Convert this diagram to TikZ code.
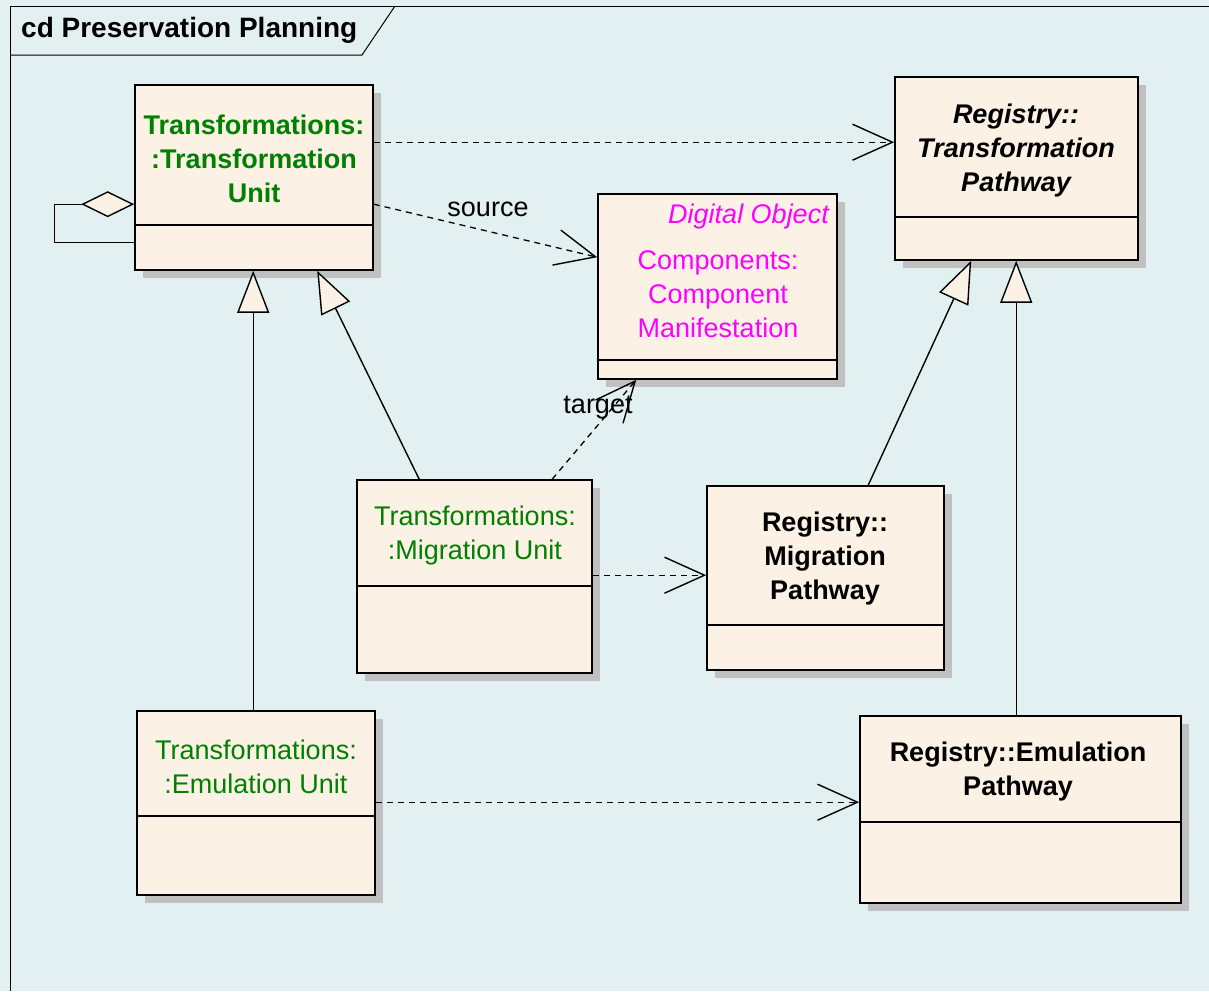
\documentclass[tikz,border=0pt]{standalone}
\usepackage{fontspec}
\setmainfont{Liberation Sans}
\usetikzlibrary{arrows.meta,fit}
\definecolor{bgc}{HTML}{E2F0F1}
\definecolor{cream}{HTML}{FBF1E4}
\definecolor{shadowc}{HTML}{C0C0C0}
\definecolor{umlgreen}{HTML}{008000}
\definecolor{umlmagenta}{HTML}{FF00FF}
\newcommand\boxfont{\fontsize{27}{34}\selectfont}
\tikzset{
  classbox/.style={draw, fill=cream, line width=1.6pt, inner sep=0pt},
  sepline/.style={line width=1.6pt},
  label/.style={font=\boxfont, align=center, inner sep=0pt},
  depend/.style={line width=1.3pt, dash pattern=on 6pt off 5pt,
    -{Straight Barb[length=40pt,width=36pt,line width=1.4pt]}},
  general/.style={line width=1.4pt,
    -{Triangle[fill=cream,length=42pt,width=32pt,line width=1.4pt]}},
  aggreg/.style={line width=1.4pt,
    {Diamond[fill=cream,length=53pt,width=26pt,line width=1.4pt]}-},
}
% class box: name, x1, y1, x2, y2, separator y
\newcommand\classbox[6]{%
  \fill[shadowc, shift={(8,8)}] (#2,#3) rectangle (#4,#5);
  \node[classbox, fit={(#2,#3) (#4,#5)}] (#1) {};
  \draw[sepline] (#2,#6) -- (#4,#6);
}
\begin{document}
\begin{tikzpicture}[x=1pt,y=-1pt]
\fill[bgc] (0,0) rectangle (1209,991);
\useasboundingbox (0,0) rectangle (1209,991);

% diagram frame and its title tab
\draw[line width=1pt] (1209,6) -- (10,6) -- (10,991);
\draw[line width=1pt] (10,55) -- (362,55) -- (395,6);
\node[label, font=\fontsize{28}{34}\selectfont\bfseries, anchor=west] (title) at (21,30) {cd Preservation Planning};

% classes
\classbox{TU}{135}{85}{373}{270}{225}
\classbox{TP}{895}{77}{1138}{260}{217}
\classbox{DO}{598}{194}{837}{379}{360}
\classbox{MU}{357}{480}{592}{673}{586}
\classbox{MP}{707}{486}{944}{670}{625}
\classbox{EU}{137}{711}{375}{895}{816}
\classbox{EP}{860}{716}{1181}{903}{822}

\node[label, text=umlgreen, font=\boxfont\bfseries] (tuText) at (254,159) {Transformations:\\:Transformation\\Unit};
\node[label, font=\boxfont\bfseries\itshape] (tpText) at (1016,151) {Registry::\\Transformation\\Pathway};
\node[label, text=umlmagenta, font=\boxfont\itshape, anchor=east] (doStereo) at (829,217) {Digital Object};
\node[label, text=umlmagenta] (doText) at (718,294) {Components:\\Component\\Manifestation};
\node[label, text=umlgreen] (muText) at (475,536) {Transformations:\\:Migration Unit};
\node[label, font=\boxfont\bfseries] (mpText) at (825,559) {Registry::\\Migration\\Pathway};
\node[label, text=umlgreen] (euText) at (256,767) {Transformations:\\:Emulation Unit};
\node[label, font=\boxfont\bfseries] (epText) at (1018,772) {Registry::Emulation\\Pathway};

% self aggregation
\draw[aggreg] ([yshift=-120pt]TU.north west) -- ++(-80,0) |- ([yshift=-158pt]TU.north west);

% dependencies
\draw[depend] ([yshift=-58pt]TU.north east) -- ([yshift=-66pt]TP.north west);
\draw[depend] ([yshift=-120pt]TU.north east) -- ([yshift=-64pt]DO.north west);
\node[label] (srcLabel) at (488,209) {source};
\draw[depend] ([xshift=196pt]MU.north west) -- ([xshift=39pt]DO.south west);
\node[label] (tgtLabel) at (598,408) {target};
\draw[depend] ([yshift=-96pt]MU.north east) -- ([yshift=-90pt]MP.north west);
\draw[depend] ([yshift=-92pt]EU.north east) -- ([yshift=-87pt]EP.north west);

% generalizations
\draw[general] ([xshift=117pt]EU.north west) -- ([xshift=119pt]TU.south west);
\draw[general] ([xshift=63pt]MU.north west) -- ([xshift=183pt]TU.south west);
\draw[general] ([xshift=162pt]MP.north west) -- ([xshift=77pt]TP.south west);
\draw[general] ([xshift=157pt]EP.north west) -- ([xshift=122pt]TP.south west);
\end{tikzpicture}
\end{document}
